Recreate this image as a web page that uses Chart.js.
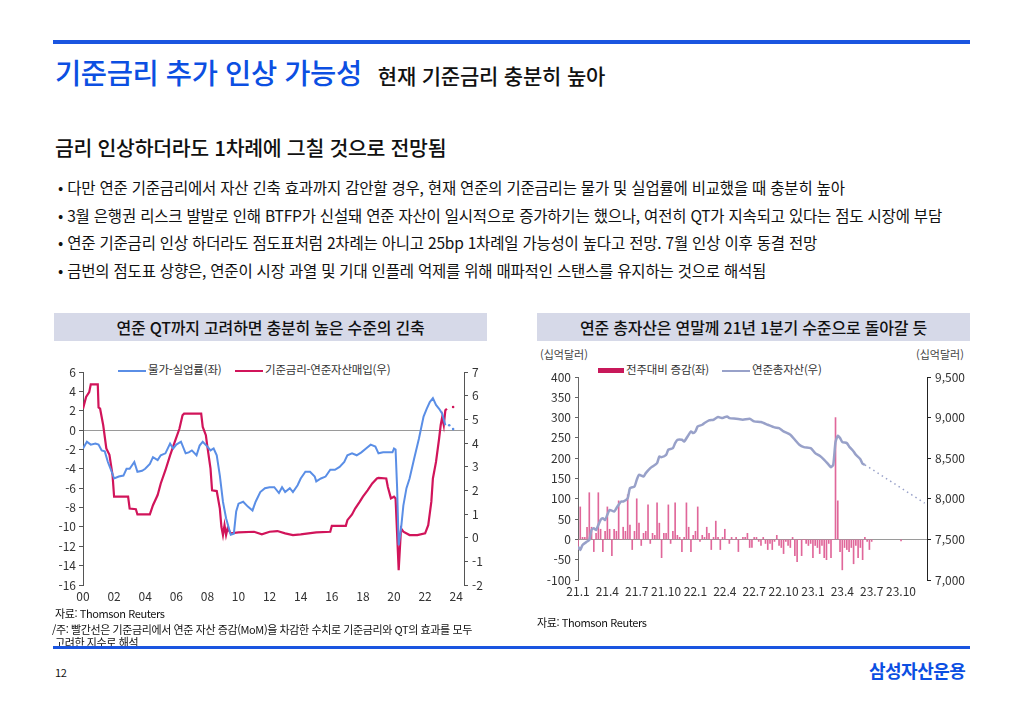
<!DOCTYPE html>
<html lang="ko">
<head>
<meta charset="utf-8">
<script src="https://cdn.jsdelivr.net/npm/chart.js@4.4.0/dist/chart.umd.min.js"></script>
<style>
  body { margin: 0; width: 1024px; height: 709px; background: #fff; position: relative; overflow: hidden;
         font-family: "Noto Sans CJK KR", "Noto Sans", sans-serif; color: #111; }
  .abs { position: absolute; white-space: nowrap; }
  .rule { position: absolute; background: #1a55e0; }
  .title { left: 55px; top: 51px; font-size: 28.5px; font-weight: 500; color: #0c4fe2; letter-spacing: -0.4px; }
  .title span { font-size: 21px; color: #111; margin-left: 16px; letter-spacing: -0.2px; }
  .sub { left: 55px; top: 132px; font-size: 20.5px; font-weight: 500; letter-spacing: -0.3px; }
  .bullet { left: 58px; font-size: 15.5px; letter-spacing: -0.2px; }
  .box { position: absolute; top: 313px; height: 28px; background: #d6d9e8; text-align: center;
         font-size: 16px; font-weight: 500; line-height: 28px; letter-spacing: -0.2px; }
  .note { font-size: 11px; letter-spacing: -0.4px; color: #111; }
  .unit { font-size: 11px; color: #444; top: 346px; }
  .leg { font-size: 11.5px; color: #333; top: 361px; letter-spacing: -0.2px; }
  .leg i { display: inline-block; vertical-align: middle; margin-right: 2px; }
  canvas { position: absolute; }
</style>
</head>
<body>
<div class="rule" style="left:53px;top:40px;width:917px;height:4px;"></div>
<div class="abs title">기준금리 추가 인상 가능성<span>현재 기준금리 충분히 높아</span></div>
<div class="abs sub">금리 인상하더라도 1차례에 그칠 것으로 전망됨</div>
<div class="abs bullet" style="top:176px;">• 다만 연준 기준금리에서 자산 긴축 효과까지 감안할 경우, 현재 연준의 기준금리는 물가 및 실업률에 비교했을 때 충분히 높아</div>
<div class="abs bullet" style="top:204px;">• 3월 은행권 리스크 발발로 인해 BTFP가 신설돼 연준 자산이 일시적으로 증가하기는 했으나, 여전히 QT가 지속되고 있다는 점도 시장에 부담</div>
<div class="abs bullet" style="top:231px;">• 연준 기준금리 인상 하더라도 점도표처럼 2차례는 아니고 25bp 1차례일 가능성이 높다고 전망. 7월 인상 이후 동결 전망</div>
<div class="abs bullet" style="top:259px;">• 금번의 점도표 상향은, 연준이 시장 과열 및 기대 인플레 억제를 위해 매파적인 스탠스를 유지하는 것으로 해석됨</div>

<div class="box" style="left:54px;width:433px;">연준 QT까지 고려하면 충분히 높은 수준의 긴축</div>
<div class="box" style="left:537px;width:433px;">연준 총자산은 연말께 21년 1분기 수준으로 돌아갈 듯</div>

<div class="abs leg" style="left:118px;"><i style="width:28px;height:2px;background:#5a8ee6;"></i>물가-실업률(좌)</div>
<div class="abs leg" style="left:235px;"><i style="width:28px;height:2px;background:#d1145a;"></i>기준금리-연준자산매입(우)</div>

<div class="abs unit" style="left:540px;">(십억달러)</div>
<div class="abs unit" style="left:916px;">(십억달러)</div>
<div class="abs leg" style="left:598px;"><i style="width:26px;height:5px;background:#c8185a;"></i>전주대비 증감(좌)</div>
<div class="abs leg" style="left:722px;"><i style="width:28px;height:2px;background:#98a1c9;"></i>연준총자산(우)</div>

<canvas id="left" width="450" height="254" style="left:40px;top:356px;width:450px;height:254px;"></canvas>
<canvas id="right" width="450" height="245" style="left:530px;top:360px;width:450px;height:245px;"></canvas>

<div class="abs note" style="left:55px;top:605px;">자료: Thomson Reuters</div>
<div class="abs note" style="left:52px;top:621px;">/주: 빨간선은 기준금리에서 연준 자산 증감(MoM)을 차감한 수치로 기준금리와 QT의 효과를 모두</div>
<div class="abs note" style="left:55px;top:634px;">고려한 지수로 해석</div>
<div class="abs note" style="left:537px;top:614px;">자료: Thomson Reuters</div>

<div class="rule" style="left:53px;top:646px;width:917px;height:3px;"></div>
<div class="abs note" style="left:55px;top:664px;font-size:11px;">12</div>
<div class="abs" style="left:869px;top:657px;font-size:18px;font-weight:700;color:#0c4fe2;letter-spacing:-0.5px;">삼성자산운용</div>

<script>
// ---- left chart data (year, value) ----
const leftTicks = [2000, 2002, 2004, 2006, 2008, 2010, 2012, 2014, 2016, 2018, 2020, 2022, 2024];

// 물가-실업률 (left axis)
const gapYears = [2000.0, 2000.25, 2000.5, 2000.8, 2001.0, 2001.2, 2001.4, 2001.6, 2001.8, 2002.0, 2002.3, 2002.6, 2002.8,
  2003.0, 2003.3, 2003.5, 2003.8, 2004.0, 2004.3, 2004.5, 2004.8, 2005.0, 2005.3, 2005.6, 2005.8, 2006.0, 2006.3, 2006.6,
  2006.8, 2007.0, 2007.3, 2007.5, 2007.7, 2008.0, 2008.2, 2008.4, 2008.6, 2008.8, 2009.0, 2009.2, 2009.5, 2009.7, 2009.85,
  2010.0, 2010.3, 2010.6, 2010.9, 2011.1, 2011.4, 2011.7, 2012.0, 2012.3, 2012.6, 2012.8, 2013.0, 2013.3, 2013.5, 2013.8,
  2014.0, 2014.3, 2014.6, 2014.9, 2015.0, 2015.3, 2015.6, 2015.9, 2016.2, 2016.5, 2016.8, 2017.0, 2017.3, 2017.6, 2017.9,
  2018.2, 2018.5, 2018.8, 2019.0, 2019.3, 2019.6, 2019.9, 2020.0, 2020.1, 2020.2, 2020.3, 2020.45, 2020.6, 2020.8, 2021.0,
  2021.3, 2021.6, 2021.9, 2022.1, 2022.3, 2022.5, 2022.7, 2022.9, 2023.1, 2023.3];
const gapValues = [-1.9, -1.2, -1.5, -1.4, -1.5, -2.1, -2.2, -3.3, -4.1, -5.0, -4.8, -4.7, -4.0,
  -4.0, -3.3, -4.3, -4.2, -4.0, -3.5, -2.8, -3.1, -2.6, -2.4, -1.4, -1.9, -1.5, -1.2, -2.4,
  -2.3, -2.1, -2.6, -1.6, -1.2, -1.7, -2.1, -1.9, -2.6, -4.7, -7.4, -9.1, -10.8, -10.7, -8.4,
  -7.6, -7.4, -7.9, -8.3, -7.4, -6.4, -6.0, -5.9, -5.9, -6.5, -5.9, -6.4, -6.0, -6.4, -5.7,
  -5.0, -4.3, -4.3, -4.8, -5.3, -5.0, -4.8, -4.1, -4.1, -3.8, -3.3, -2.6, -2.4, -2.6, -2.3,
  -1.9, -1.5, -1.7, -2.4, -2.3, -2.3, -2.3, -1.9, -2.0, -6.0, -11.9, -10.2, -7.8, -6.0, -5.0,
  -2.9, -0.9, 1.4, 2.2, 2.9, 3.3, 2.6, 2.2, 1.7, 0.5];
const gapFcstYears = [2023.55, 2023.8];
const gapFcstValues = [0.5, 0.1];

// 기준금리-연준자산매입 (right axis)
const rateYears = [2000.0, 2000.2, 2000.4, 2000.5, 2000.95, 2001.0, 2001.1, 2001.3, 2001.5, 2001.7, 2001.9, 2002.0, 2002.9,
  2003.0, 2003.4, 2003.5, 2004.3, 2004.5, 2004.8, 2005.0, 2005.3, 2005.6, 2005.9, 2006.2, 2006.4, 2006.5, 2007.6, 2007.7,
  2007.9, 2008.0, 2008.2, 2008.3, 2008.6, 2008.8, 2008.9, 2009.0, 2009.1, 2009.2, 2009.3, 2009.5, 2010.0, 2011.0, 2011.5,
  2012.0, 2012.5, 2013.0, 2013.5, 2014.0, 2015.0, 2015.9, 2016.0, 2016.9, 2017.0, 2017.3, 2017.5, 2017.8, 2018.0, 2018.3,
  2018.6, 2018.9, 2019.0, 2019.5, 2019.6, 2019.8, 2020.0, 2020.1, 2020.3, 2020.45, 2020.6, 2021.0, 2021.5, 2022.0, 2022.2,
  2022.4, 2022.5, 2022.7, 2022.9, 2023.0, 2023.1, 2023.2, 2023.3, 2023.4];
const rateValues = [5.45, 5.95, 6.15, 6.48, 6.48, 5.5, 5.45, 4.75, 3.77, 3.5, 2.64, 1.73, 1.73,
  1.23, 1.2, 0.98, 0.98, 1.37, 1.8, 2.29, 2.85, 3.48, 4.05, 4.6, 5.17, 5.24, 5.24, 4.68,
  4.33, 3.84, 2.92, 2.0, 1.97, 1.23, 0.46, 0.11, 0.53, 0.11, 0.39, 0.18, 0.22, 0.25, 0.14,
  0.25, 0.28, 0.18, 0.11, 0.14, 0.22, 0.25, 0.5, 0.5, 0.74, 0.98, 1.23, 1.52, 1.73, 2.0,
  2.29, 2.5, 2.53, 2.5, 2.15, 1.66, 1.73, 1.66, -1.37, 0.39, 0.25, 0.11, 0.11, 0.18, 0.53,
  1.52, 2.5, 3.2, 4.19, 4.75, 5.1, 4.75, 5.38, 5.45];
const rateFcstYears = [2023.8];
const rateFcstValues = [5.52];

// ---- right chart data (weeks since 2021-01) ----
const qtrTicks = [0, 13, 26, 39, 52, 65, 78, 91, 104, 117, 130, 143];
const qtrLabels = ['21.1', '21.4', '21.7', '21.10', '22.1', '22.4', '22.7', '22.10', '23.1', '23.4', '23.7', '23.10'];

// 전주대비 증감 (weekly, 십억달러)
const weeklyChange = [-25, 80, 5, 5, 30, 115, 30, -30, 15, 115, 25, -30, 20, 80, 25, -40, 25, 20, 95, 0,
  30, 20, 110, 35, -25, 20, 100, 40, -15, 15, 20, 85, -10, 15, 10, 90, 40, -45, 15, 15,
  85, -10, 20, 90, 10, 5, -30, 5, 90, 30, -30, 10, 20, 80, -5, 10, 5, 30, 15, -25,
  5, 45, 5, -25, 5, 25, 0, -10, 5, 0, 5, -30, 0, 5, 5, 15, -20, -20, 5, 5,
  -5, -15, 5, -10, -25, -10, -25, -5, 10, -15, -20, -35, -5, -15, -20, 5, -40, -55, 0, -40,
  0, -10, -15, -10, -45, -15, -20, -35, -15, -45, -50, -10, -45, 0, 300, 95, -30, -75, -20, -25,
  -30, -20, -60, -15, -45, -20, -50, 5, -5, -25, -5];
const lateChangeWeek = 143;
const lateChangeValue = -4;

// 연준총자산 (십억달러)
const assetWeeks = [0, 1, 2, 4, 5, 6, 7, 8, 10, 11, 12, 14, 16, 17, 19, 20, 22, 23, 25, 26, 27, 29, 30, 32,
  33, 35, 36, 37, 39, 40, 42, 43, 44, 46, 47, 49, 50, 51, 52, 53, 55, 56, 58, 60, 62, 64, 66, 67, 70, 73, 76,
  78, 81, 84, 87, 89, 91, 94, 96, 98, 100, 103, 105, 107, 109, 111, 112, 113, 114, 115, 116, 117, 119, 120,
  122, 123, 125, 126, 127];
const assetValues = [7411, 7370, 7432, 7473, 7493, 7617, 7637, 7617, 7740, 7761, 7740, 7863, 7843, 7884, 7966, 7966, 8007, 8130, 8151, 8233,
  8295, 8275, 8316, 8377, 8398, 8439, 8521, 8513, 8542, 8604, 8624, 8686, 8727, 8727, 8706, 8789, 8830, 8809, 8830, 8891,
  8912, 8933, 8965, 8974, 9007, 8994, 9015, 8994, 8986, 8974, 8986, 8953, 8945, 8912, 8879, 8871, 8830, 8789, 8727, 8665,
  8637, 8624, 8562, 8530, 8480, 8419, 8390, 8420, 8700, 8776, 8748, 8700, 8686, 8645, 8583, 8542, 8488, 8431, 8419];
const assetFcstWeeks = [127, 153.5];
const assetFcstValues = [8419, 7946];

const pts = (xs, ys) => xs.map((x, i) => ({ x: x, y: ys[i] }));
const tickFont = { family: '"Noto Sans CJK KR", "Noto Sans", sans-serif', size: 12 };

// ---------------- left chart ----------------
new Chart(document.getElementById('left'), {
  type: 'line',
  data: {
    datasets: [
      { data: pts(gapYears, gapValues), yAxisID: 'y', borderColor: '#5a8ee6', borderWidth: 2, pointRadius: 0, tension: 0 },
      { data: pts(rateYears, rateValues), yAxisID: 'y1', borderColor: '#d1145a', borderWidth: 2.2, pointRadius: 0, tension: 0 },
      { data: pts(gapFcstYears, gapFcstValues), yAxisID: 'y', showLine: false, pointRadius: 1.3, pointBorderWidth: 0,
        pointBackgroundColor: '#5a8ee6' },
      { data: pts(rateFcstYears, rateFcstValues), yAxisID: 'y1', showLine: false, pointRadius: 1.3, pointBorderWidth: 0,
        pointBackgroundColor: '#d1145a' }
    ]
  },
  options: {
    animation: false, responsive: false,
    layout: { padding: { top: 16, left: 0, right: 0, bottom: 0 } },
    plugins: { legend: { display: false }, tooltip: { enabled: false } },
    scales: {
      x: {
        type: 'linear', min: 2000, max: 2024.5,
        afterBuildTicks: axis => { axis.ticks = leftTicks.map(v => ({ value: v })); },
        afterFit: s => { s.height = 25; },
        border: { display: false },
        grid: { display: false, drawTicks: false },
        ticks: { color: '#333', font: tickFont, padding: 4, maxRotation: 0,
                 callback: v => String(v % 100).padStart(2, '0') }
      },
      y: {
        position: 'left', min: -16, max: 6,
        afterFit: s => { s.width = 43; },
        border: { display: true, color: '#555' },
        grid: { drawTicks: true, tickLength: 4, tickColor: '#555',
                color: ctx => ctx.tick && ctx.tick.value === 0 ? '#9a9a9a' : 'transparent' },
        ticks: { stepSize: 2, color: '#333', font: tickFont, padding: 3 }
      },
      y1: {
        position: 'right', min: -2, max: 7,
        afterFit: s => { s.width = 26; },
        border: { display: true, color: '#555' },
        grid: { drawOnChartArea: false, tickLength: 4, tickColor: '#555' },
        ticks: { stepSize: 1, color: '#333', font: tickFont, padding: 4 }
      }
    }
  }
});

// ---------------- right chart ----------------
const changeData = pts(weeklyChange.map((v, i) => i), weeklyChange);
changeData.push({ x: lateChangeWeek, y: lateChangeValue });

new Chart(document.getElementById('right'), {
  data: {
    datasets: [
      { type: 'line', data: pts(assetWeeks, assetValues), yAxisID: 'y1', borderColor: '#98a1c9', borderWidth: 2.5,
        pointRadius: 0, tension: 0.2, order: 0 },
      { type: 'line', data: pts(assetFcstWeeks, assetFcstValues), yAxisID: 'y1', borderColor: '#98a1c9', borderWidth: 1.5,
        borderDash: [1.5, 3.5], pointRadius: 0, order: 0 },
      { type: 'bar', data: changeData, yAxisID: 'y', backgroundColor: '#e0679a', barThickness: 1, order: 1 }
    ]
  },
  options: {
    animation: false, responsive: false,
    layout: { padding: { top: 17, left: 0, right: 0, bottom: 0 } },
    plugins: { legend: { display: false }, tooltip: { enabled: false } },
    scales: {
      x: {
        type: 'linear', min: 0, max: 154.5, offset: false,
        afterBuildTicks: axis => { axis.ticks = qtrTicks.map(v => ({ value: v })); },
        afterFit: s => { s.height = 25; },
        border: { display: false },
        grid: { display: false, drawTicks: false },
        ticks: { color: '#333', font: tickFont, padding: 4, maxRotation: 0, autoSkip: false,
                 callback: v => qtrLabels[qtrTicks.indexOf(v)] }
      },
      y: {
        position: 'left', min: -100, max: 400,
        afterFit: s => { s.width = 48; },
        border: { display: true, color: '#666' },
        grid: { drawTicks: true, tickLength: 3, tickColor: '#666',
                color: ctx => ctx.tick && ctx.tick.value === 0 ? '#9a9a9a' : 'transparent' },
        ticks: { stepSize: 50, color: '#333', font: tickFont, padding: 4 }
      },
      y1: {
        position: 'right', min: 7000, max: 9500,
        afterFit: s => { s.width = 53; },
        border: { display: true, color: '#222' },
        grid: { drawOnChartArea: false, tickLength: 4, tickColor: '#222' },
        ticks: { stepSize: 500, color: '#333', font: tickFont, padding: 4,
                 callback: v => v.toLocaleString('en-US') }
      }
    }
  }
});
</script>
</body>
</html>
